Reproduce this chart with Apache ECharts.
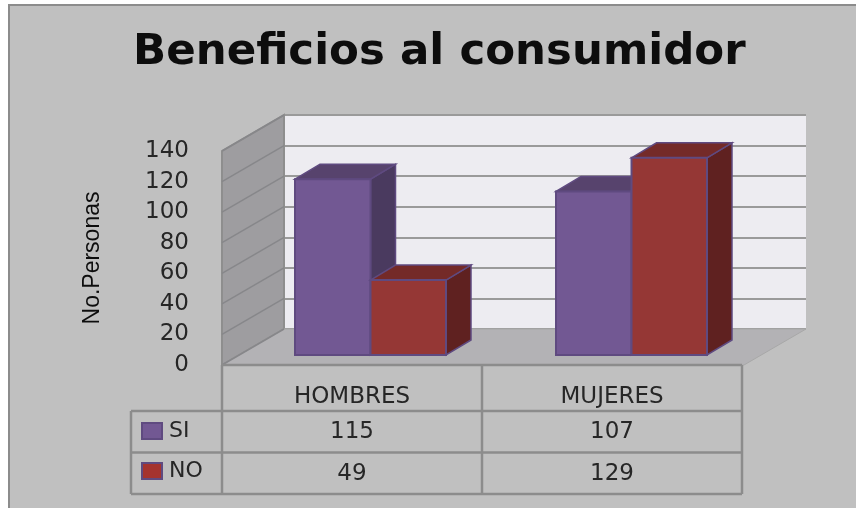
<!DOCTYPE html>
<html>
<head>
<meta charset="utf-8">
<style>
  html, body { margin: 0; padding: 0; background: #fff; }
  #chart { position: absolute; left: 8px; top: 4px; width: 848px; height: 504px; }
</style>
<script src="https://cdn.jsdelivr.net/npm/echarts@6/dist/echarts.min.js"></script>
</head>
<body>
<div id="chart"></div>
<script>
  var categories = ['HOMBRES', 'MUJERES'];
  var siValues = [115, 107];
  var noValues = [49, 129];
  var yTicks = [0, 20, 40, 60, 80, 100, 120, 140];

  var FONT = 'DejaVu Sans';
  var GRID_LINE = '#9a9a9a';
  var WALL_DX = -62, WALL_DY = 36;   // back wall -> front edge of the floor
  var BAR_DX = -44, BAR_DY = 26;     // back wall -> front face of the bars
  var DEPTH_DX = 25, DEPTH_DY = -15; // depth of a bar
  var BAR_W = 75.5;
  var BAR_LINE = '#5f4a80';

  var chart = echarts.init(document.getElementById('chart'));

  function poly(points, fill, stroke, width) {
    return {
      type: 'polygon',
      shape: { points: points },
      style: { fill: fill, stroke: stroke || null, lineWidth: width || 0 }
    };
  }

  // side wall and floor, drawn from the back wall plot rectangle
  function renderRoom(params, api) {
    var c = params.coordSys;
    var l = c.x, r = c.x + c.width, t = c.y, b = c.y + c.height;
    var kids = [
      poly([[l, t], [l, b], [l + WALL_DX, b + WALL_DY], [l + WALL_DX, t + WALL_DY]], '#9e9da0', '#8e8e8e', 2),
      poly([[l, b], [r, b], [r + WALL_DX, b + WALL_DY], [l + WALL_DX, b + WALL_DY]], '#b3b2b5', '#a8a8a8', 1)
    ];
    yTicks.forEach(function (v) {
      var y = api.coord([0, v])[1];
      kids.push({
        type: 'line',
        shape: { x1: l, y1: y, x2: l + WALL_DX, y2: y + WALL_DY },
        style: { stroke: '#87878a', lineWidth: 1.5 }
      });
    });
    return { type: 'group', children: kids };
  }

  function barRenderer(offset, front, top, side) {
    return function (params, api) {
      var p = api.coord([api.value(0), api.value(1)]);
      var p0 = api.coord([api.value(0), 0]);
      var x1 = p[0] + BAR_DX + offset * BAR_W, x2 = x1 + BAR_W;
      var yt = p[1] + BAR_DY, yb = p0[1] + BAR_DY;
      return {
        type: 'group',
        children: [
          poly([[x2, yt], [x2 + DEPTH_DX, yt + DEPTH_DY], [x2 + DEPTH_DX, yb + DEPTH_DY], [x2, yb]], side, BAR_LINE, 1.5),
          poly([[x1, yt], [x1 + DEPTH_DX, yt + DEPTH_DY], [x2 + DEPTH_DX, yt + DEPTH_DY], [x2, yt]], top, BAR_LINE, 1.5),
          poly([[x1, yt], [x2, yt], [x2, yb], [x1, yb]], front, BAR_LINE, 2)
        ]
      };
    };
  }

  // data table under the chart
  var ROW_TOP = 407, ROW_H = 41.5, TABLE_LEFT = 123;
  function renderTable(params, api) {
    var c = params.coordSys;
    var l = c.x, r = c.x + c.width, b = c.y + c.height;
    var mid = (l + r) / 2;
    var stroke = { stroke: '#8c8c8c', lineWidth: 2.5 };
    function line(x1, y1, x2, y2) {
      return { type: 'line', shape: { x1: x1, y1: y1, x2: x2, y2: y2 }, style: stroke };
    }
    var kids = [
      line(l, b, r, b),
      line(l, b, l, ROW_TOP + 2 * ROW_H),
      line(mid, b, mid, ROW_TOP + 2 * ROW_H),
      line(r, b, r, ROW_TOP + 2 * ROW_H),
      line(TABLE_LEFT, ROW_TOP, TABLE_LEFT, ROW_TOP + 2 * ROW_H)
    ];
    [0, 1, 2].forEach(function (i) {
      kids.push(line(TABLE_LEFT, ROW_TOP + i * ROW_H, r, ROW_TOP + i * ROW_H));
    });
    [siValues, noValues].forEach(function (vals, row) {
      vals.forEach(function (v, i) {
        kids.push({
          type: 'text',
          style: {
            text: String(v),
            x: api.coord([i, 0])[0],
            y: ROW_TOP + (row + 0.5) * ROW_H + 0.5,
            align: 'center',
            verticalAlign: 'middle',
            fontFamily: FONT,
            fontSize: 23,
            fill: '#262626'
          }
        });
      });
    });
    return { type: 'group', children: kids };
  }

  var option = {
    animation: false,
    backgroundColor: '#c0c0c0',
    title: {
      text: 'Beneficios al consumidor',
      left: 120,
      top: 22,
      textStyle: { fontFamily: FONT, fontWeight: 'bold', fontSize: 43.5, color: '#0d0d0d' }
    },
    legend: {
      orient: 'vertical',
      left: 128,
      top: 411,
      itemWidth: 20,
      itemHeight: 16,
      itemGap: 18,
      icon: 'rect',
      textStyle: { fontFamily: FONT, fontSize: 22, color: '#262626', padding: [0, 0, 0, 2] },
      data: [
        { name: 'SI', itemStyle: { color: '#725893', borderColor: BAR_LINE, borderWidth: 2 } },
        { name: 'NO', itemStyle: { color: '#a5332f', borderColor: BAR_LINE, borderWidth: 2 } }
      ]
    },
    grid: [
      // back wall
      { left: 276, top: 111, width: 522, height: 214, show: true, backgroundColor: '#edecf1', borderWidth: 0 },
      // front plane, carries the labels
      { left: 214, top: 147, width: 520, height: 214 }
    ],
    xAxis: [
      { type: 'category', gridIndex: 0, data: categories, show: false },
      {
        type: 'category',
        gridIndex: 1,
        data: categories,
        axisLine: { show: false },
        axisTick: { show: false },
        axisLabel: { margin: 21, fontFamily: FONT, fontSize: 23, color: '#262626' }
      }
    ],
    yAxis: [
      {
        type: 'value', gridIndex: 0, min: 0, max: 140, interval: 20,
        axisLine: { show: false }, axisTick: { show: false }, axisLabel: { show: false },
        splitLine: { show: true, lineStyle: { color: GRID_LINE, width: 2 } }
      },
      {
        type: 'value', gridIndex: 1, min: 0, max: 140, interval: 20,
        name: 'No.Personas',
        nameLocation: 'middle',
        nameRotate: 90,
        nameGap: 118,
        nameTextStyle: { fontFamily: 'Liberation Sans', fontSize: 23, color: '#0d0d0d' },
        axisLine: { show: false },
        axisTick: { show: false },
        splitLine: { show: false },
        axisLabel: { margin: 33, fontFamily: FONT, fontSize: 23, color: '#262626' }
      }
    ],
    series: [
      {
        type: 'custom', name: 'room', xAxisIndex: 0, yAxisIndex: 0, silent: true,
        renderItem: renderRoom, data: [0], z: 1
      },
      {
        type: 'custom', name: 'SI', xAxisIndex: 0, yAxisIndex: 0, z: 3,
        itemStyle: { color: '#725893' },
        renderItem: barRenderer(-1, '#725893', '#57436d', '#4a3a5f'),
        encode: { x: 0, y: 1 },
        data: categories.map(function (c, i) { return [i, siValues[i]]; })
      },
      {
        type: 'custom', name: 'NO', xAxisIndex: 0, yAxisIndex: 0, z: 4,
        itemStyle: { color: '#a5332f' },
        renderItem: barRenderer(0, '#953735', '#742a28', '#5f2120'),
        encode: { x: 0, y: 1 },
        data: categories.map(function (c, i) { return [i, noValues[i]]; })
      },
      {
        type: 'custom', name: 'table', xAxisIndex: 1, yAxisIndex: 1, silent: true,
        renderItem: renderTable, data: [0], z: 5
      }
    ],
    // frame only shows on the top and left, the rest runs off the picture
    graphic: [{
      type: 'rect',
      shape: { x: 1, y: 1, width: 900, height: 600 },
      style: { fill: null, stroke: '#8c8c8c', lineWidth: 2 },
      silent: true
    }]
  };
  chart.setOption(option);
</script>
</body>
</html>
